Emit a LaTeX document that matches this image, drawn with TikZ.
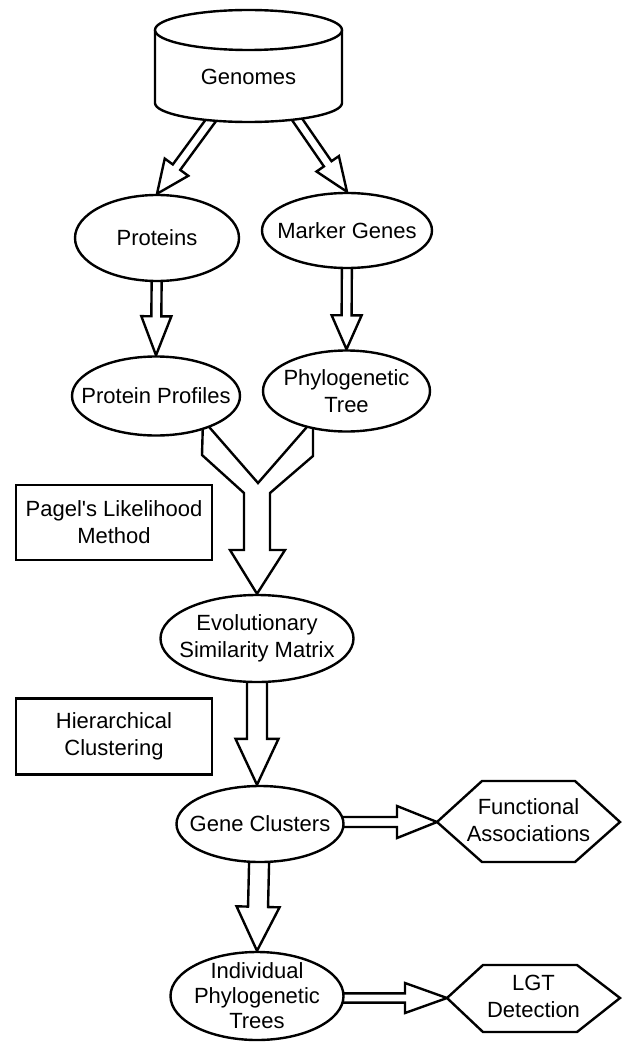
\documentclass[tikz,border=0pt]{standalone}
\usepackage{fontspec}
\setmainfont{Liberation Sans}
\usetikzlibrary{shapes.geometric,calc}
\pgfdeclarelayer{background}
\pgfsetlayers{background,main}
\tikzset{
  lw/.style={line width=1.2pt, line join=miter},
  ell/.style={ellipse, draw, fill=white, lw, inner sep=0pt},
  boxnode/.style={rectangle, draw, fill=white, lw, inner sep=0pt, align=center, font=\fontsize{11}{13.5}\selectfont},
  txt/.style={align=center, inner sep=0pt, font=\fontsize{11}{13.5}\selectfont},
  blk/.style={draw, fill=white, lw},
}
\newcommand{\blockarrow}[5]{%
  \coordinate (bah) at ($(#2)!#5!(#1)$);
  \draw[blk] ($(#1)!#3!90:(#2)$) -- ($(bah)!#3!-90:(#1)$) -- ($(bah)!#4!-90:(#1)$) -- (#2)
    -- ($(bah)!#4!90:(#1)$) -- ($(bah)!#3!90:(#1)$) -- ($(#1)!#3!-90:(#2)$) -- cycle;}
\begin{document}
\begin{tikzpicture}[x=0.5pt,y=-0.5pt]
\useasboundingbox (0,0) rectangle (622,1043);

% Genomes cylinder
\draw[lw, fill=white] (155,30) -- (155,103) arc[start angle=180, end angle=360, x radius=46.75pt, y radius=9.5pt] -- (342,30);
\draw[lw, fill=white] (248.5,30) ellipse [x radius=46.75pt, y radius=10pt];
\node[txt] (genomes) at (248.5,77) {Genomes};
\coordinate (g1) at (217,112);
\coordinate (g2) at (292,112);

% ellipses
\node[ell, minimum width=82pt, minimum height=43pt] (proteins) at (157,238) {};
\node[txt] (proteins-t) at (proteins) {Proteins};
\node[ell, minimum width=85pt, minimum height=37.5pt] (marker) at (347,230.5) {};
\node[txt] (marker-t) at (marker) {Marker Genes};
\node[ell, minimum width=84pt, minimum height=39.5pt] (pp) at (156,396) {};
\node[txt] (pp-t) at (pp) {Protein Profiles};
\node[ell, minimum width=83.5pt, minimum height=40.5pt] (pt) at (346.5,391) {};
\node[txt] (pt-t) at (pt) {Phylogenetic\\Tree};
\node[ell, minimum width=96.5pt, minimum height=43.5pt] (esm) at (257,638.5) {};
\node[txt] (esm-t) at (esm) {Evolutionary\\Similarity Matrix};
\node[ell, minimum width=83.5pt, minimum height=38pt] (gc) at (260,824) {};
\node[txt] (gc-t) at (gc) {Gene Clusters};
\node[ell, minimum width=86.5pt, minimum height=44pt] (ipt) at (257,996) {};
\node[txt, font=\fontsize{11}{12.5}\selectfont] (ipt-t) at (ipt) {Individual\\Phylogenetic\\Trees};

% boxes
\node[boxnode, minimum width=98pt, minimum height=37.5pt] (pagel) at (114,522.5) {Pagel\textquotesingle s Likelihood\\Method};
\node[boxnode, minimum width=98pt, minimum height=38pt] (hc) at (114,736.5) {Hierarchical\\Clustering};

% hexagons
\draw[lw, fill=white] (437,822) -- (482,781) -- (575,781) -- (620,822) -- (575,862) -- (482,862) -- cycle;
\node[txt] (fa) at (528.5,820) {Functional\\Associations};
\coordinate (faL) at (437,822);
\draw[lw, fill=white] (447,998) -- (483,965) -- (577,965) -- (620,998) -- (577,1032) -- (483,1032) -- cycle;
\node[txt] (lgt) at (533.5,996) {LGT\\Detection};
\coordinate (lgtL) at (447,998);

% arrows (behind nodes)
\begin{pgfonlayer}{background}
  \blockarrow{g1}{proteins.north}{2.3pt}{7.3pt}{16.5pt}
  \blockarrow{g2}{marker.north}{2.3pt}{6.8pt}{17pt}
  \blockarrow{proteins}{pp.north}{2.5pt}{7.5pt}{19.5pt}
  \blockarrow{marker}{pt.north}{2.5pt}{7.5pt}{17pt}
  \coordinate (t3) at (esm.center |- gc.north);
  \blockarrow{esm}{t3}{5pt}{10.75pt}{23pt}
  \blockarrow{gc}{ipt.north}{5pt}{10.75pt}{22pt}
  \coordinate (s5) at (gc.center |- faL);
  \blockarrow{s5}{faL}{2.5pt}{8pt}{20pt}
  \coordinate (s6) at (ipt.center |- lgtL);
  \blockarrow{s6}{lgtL}{2.3pt}{7.5pt}{21pt}
  % merging Y arrow
  \draw[blk] (203,420) -- (202,455) -- (244,493) -- (244,550) -- (230,550) -- (esm.north)
    -- (285,550) -- (270,550) -- (270,493) -- (313,456) -- (313,420) -- (258,483) -- cycle;
\end{pgfonlayer}
\end{tikzpicture}
\end{document}
